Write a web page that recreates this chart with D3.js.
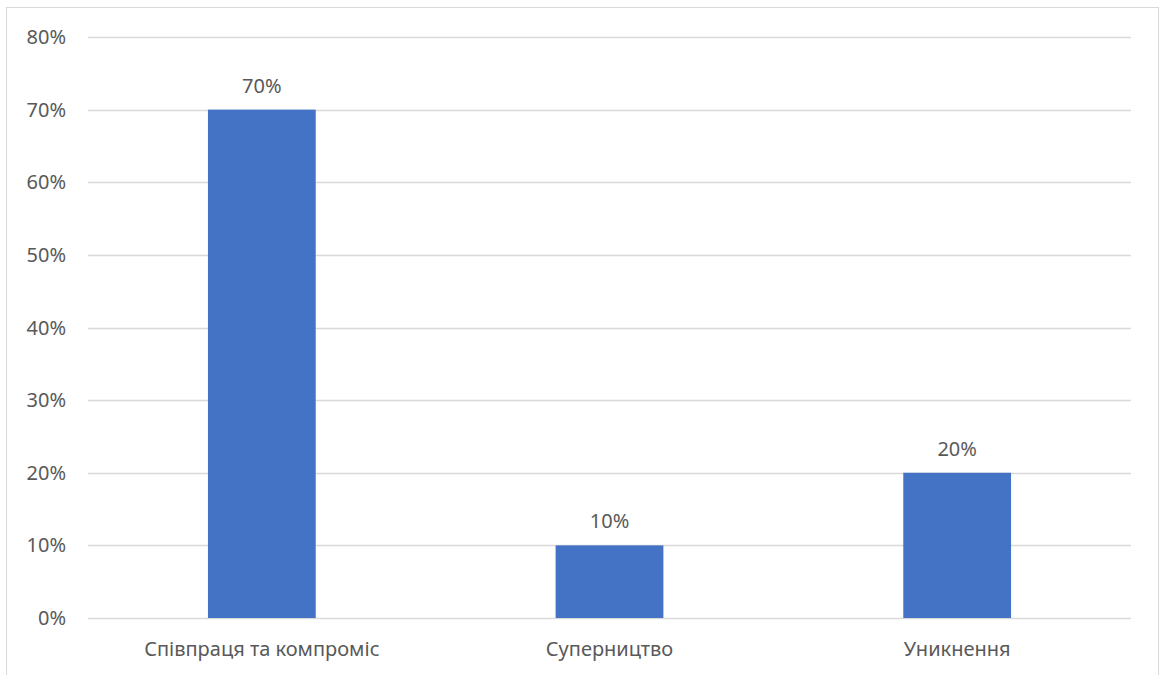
<!DOCTYPE html>
<html>
<head>
<meta charset="utf-8">
<script src="https://cdn.jsdelivr.net/npm/d3@7"></script>
<style>
  body { margin: 0; background: #fff; }
  svg text { font-family: "Noto Sans", "Open Sans", sans-serif; fill: #595959; }
</style>
</head>
<body>
<svg id="chart"></svg>
<script>
// Chart data
const categories = ["Співпраця та компроміс", "Суперництво", "Уникнення"];
const values = [0.70, 0.10, 0.20];
const yTicks = [0, 0.1, 0.2, 0.3, 0.4, 0.5, 0.6, 0.7, 0.8];

const width = 1163;
const height = 675;
const margin = { left: 88, right: 32, top: 37, bottom: 57 };
const fontSize = "20px";

const svg = d3.select("#chart").attr("width", width).attr("height", height);

// outer chart border (bottom edge runs off the picture)
svg.append("rect")
    .attr("x", 6.5).attr("y", 7.5)
    .attr("width", 1152).attr("height", 700)
    .attr("fill", "none")
    .attr("stroke", "#d9d9d9");

const xScale = d3.scaleBand()
    .domain(categories)
    .range([margin.left, width - margin.right])
    .paddingInner(0.69)
    .paddingOuter(0.345);

const yScale = d3.scaleLinear()
    .domain([0, 0.8])
    .range([height - margin.bottom, margin.top]);

// gridlines
svg.append("g")
    .selectAll("line")
    .data(yTicks)
    .join("line")
    .attr("x1", margin.left)
    .attr("x2", width - margin.right)
    .attr("y1", d => Math.round(yScale(d)) + 0.5)
    .attr("y2", d => Math.round(yScale(d)) + 0.5)
    .attr("stroke", "#d9d9d9")
    .attr("stroke-width", 1.3);

// y axis labels
svg.append("g")
    .selectAll("text")
    .data(yTicks)
    .join("text")
    .attr("x", 66)
    .attr("y", d => yScale(d))
    .attr("dy", "0.35em")
    .attr("text-anchor", "end")
    .style("font-size", fontSize)
    .text(d3.format(".0%"));

// bars
svg.append("g")
    .selectAll("rect")
    .data(values)
    .join("rect")
    .attr("x", (d, i) => xScale(categories[i]))
    .attr("y", d => yScale(d))
    .attr("width", xScale.bandwidth())
    .attr("height", d => yScale(0) - yScale(d))
    .attr("fill", "#4472c4");

// value labels
svg.append("g")
    .selectAll("text")
    .data(values)
    .join("text")
    .attr("x", (d, i) => xScale(categories[i]) + xScale.bandwidth() / 2)
    .attr("y", d => yScale(d) - 17)
    .attr("text-anchor", "middle")
    .style("font-size", fontSize)
    .text(d3.format(".0%"));

// category labels
svg.append("g")
    .selectAll("text")
    .data(categories)
    .join("text")
    .attr("x", d => xScale(d) + xScale.bandwidth() / 2)
    .attr("y", height - margin.bottom + 38)
    .attr("text-anchor", "middle")
    .style("font-size", fontSize)
    .text(d => d);
</script>
</body>
</html>
